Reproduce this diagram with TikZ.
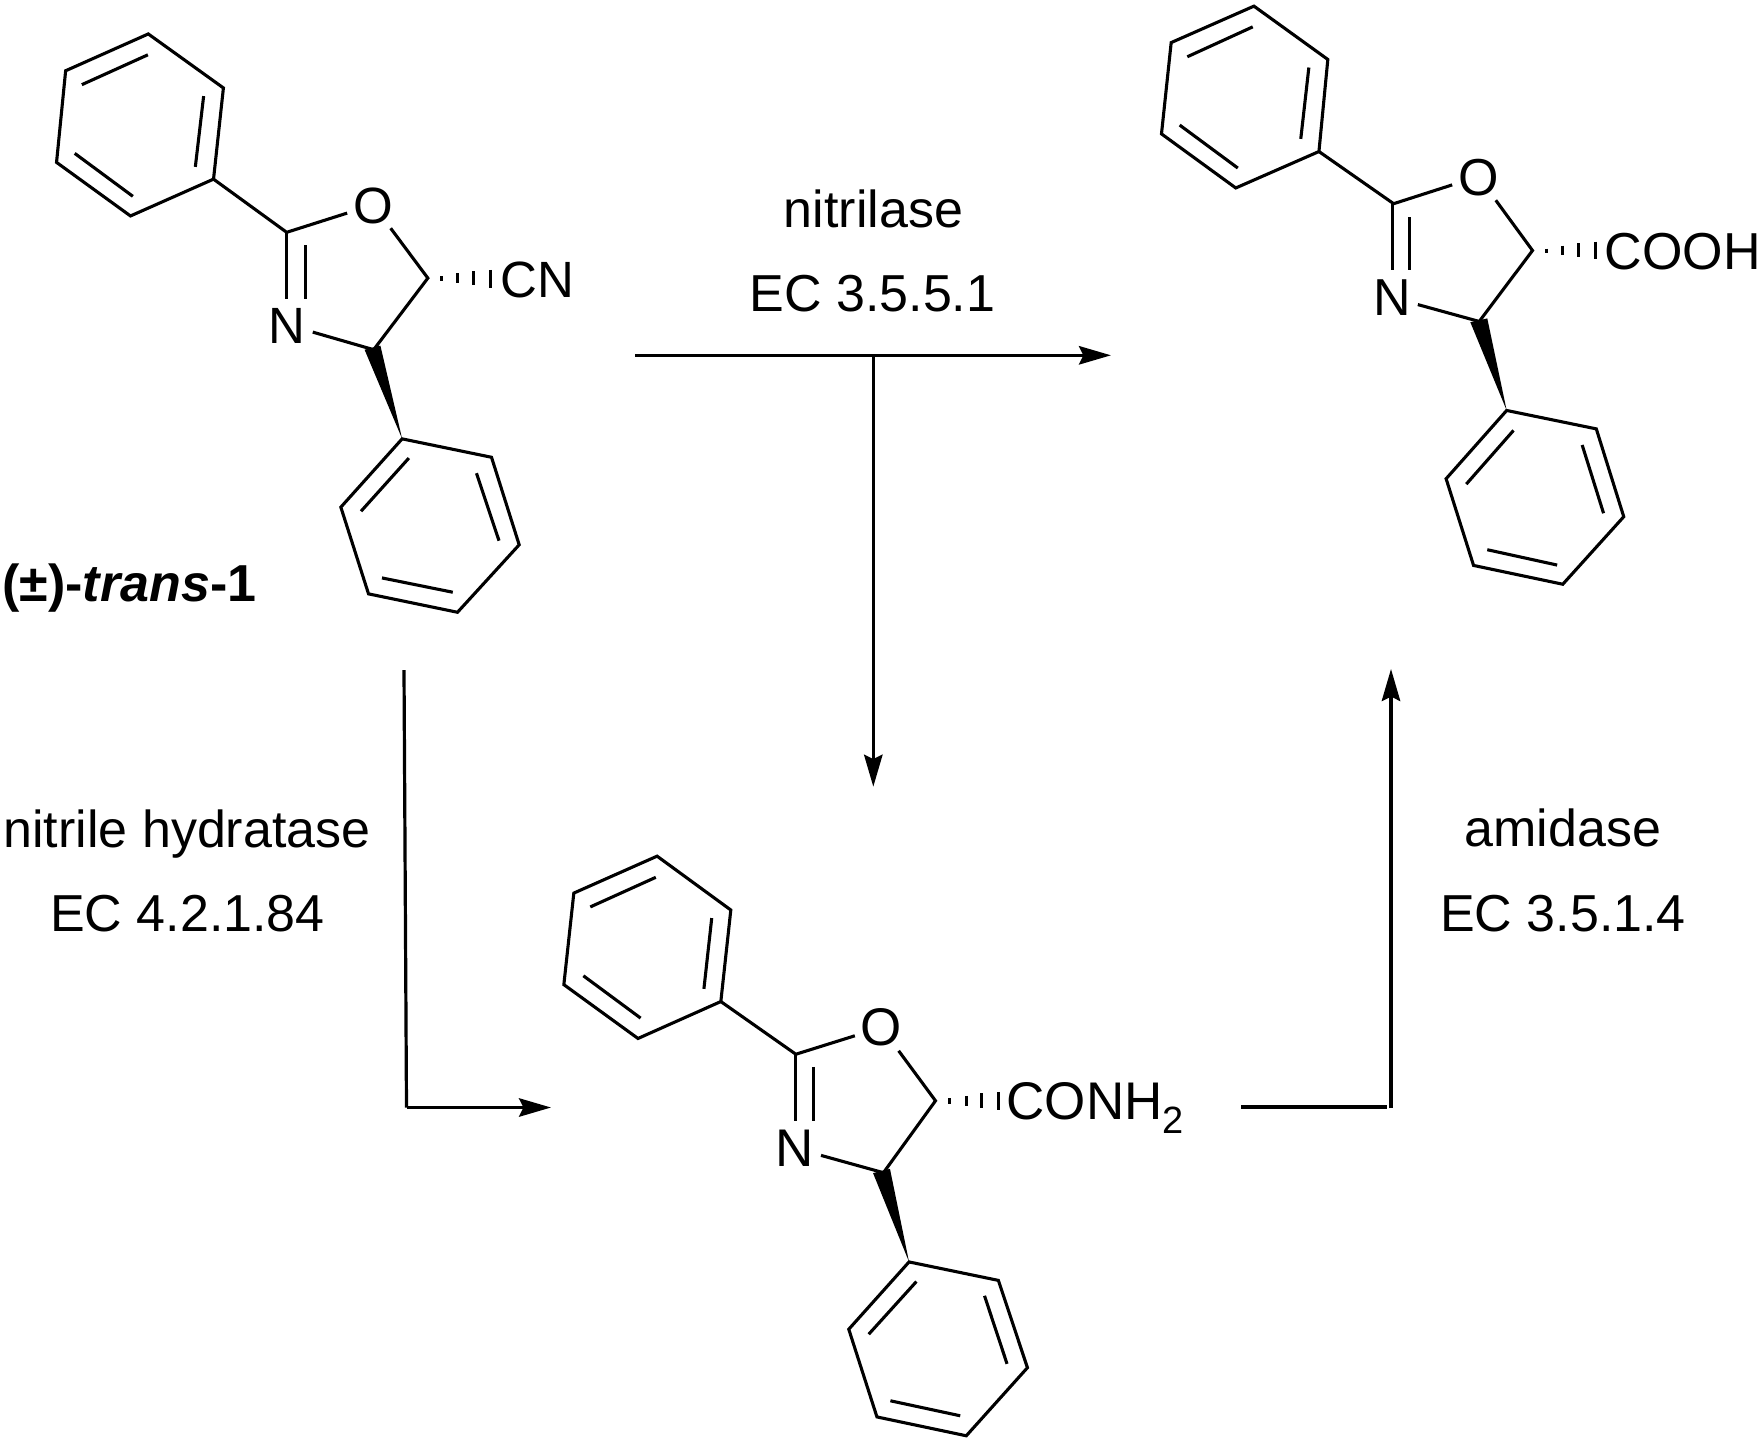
\documentclass[tikz,border=0pt]{standalone}
\usepackage{fontspec}
\setmainfont{Liberation Sans}
\usetikzlibrary{arrows.meta}
\tikzset{
  bond/.style={line width=1.55pt,line cap=butt,line join=miter},
  conn/.style={line width=1.6pt},
  head/.style={conn,-{Stealth[length=16pt,width=9.2pt,inset=2.2pt]}},
  lab/.style={inner sep=0pt,outer sep=0pt,anchor=base,font=\fontsize{26}{30}\selectfont},
  atomA/.style={inner sep=0pt,outer sep=0pt,font=\fontsize{25.5}{30}\selectfont},
  atomB/.style={inner sep=0pt,outer sep=0pt,font=\fontsize{26}{30}\selectfont},
  atomC/.style={inner sep=0pt,outer sep=0pt,font=\fontsize{26.5}{30}\selectfont},
}
\begin{document}
\begin{tikzpicture}[x=0.5pt,y=-0.5pt]
\useasboundingbox (0,0) rectangle (1763,1441);
\fill[white] (0,0) rectangle (1763,1441);

% molecule 1
\begin{scope}[x=0.19771pt,y=-0.2045pt]
\draw[bond] (375,83)--(565,215)--(540,438)--(330,528)--(143,397)--(166,173)--cycle;
\draw[bond] (207,207)--(374,134) (515,235)--(494,408) (189,375)--(336,480);
\draw[bond] (540,438)--(725,568)--(878,521) (988,558)--(1082,680)--(945,855)--(791,812);
\draw[bond] (725,568)--(725,730) (772,600)--(772,730);
\draw[bond] (1116,675)--(1116,687) (1157,668)--(1157,693) (1198,663)--(1198,698) (1240,660)--(1240,703);
\fill (922,855)--(962,845)--(1017,1073)--cycle;
\draw[bond] (1017,1073)--(1243,1118)--(1313,1332)--(1157,1497)--(932,1452)--(862,1240)--cycle;
\draw[bond] (1034,1120)--(913,1250) (1205,1157)--(1262,1322) (1145,1448)--(966,1413);
\node[atomA] (o1) at (945,503) {O};
\node[atomA] (n1) at (725,797) {N};
\node[atomA,anchor=base west] (cn) at (1266,728) {CN};
\node[inner sep=0pt,anchor=base west,font=\fontsize{26}{30}\selectfont\bfseries] (tr) at (5,1470) {(±)-\textit{trans}-1};
\end{scope}

% molecule 2
\begin{scope}[shift={(1130,0)},x=0.20186pt,y=-0.1918pt]
\draw[bond] (307,16)--(490,155)--(468,395)--(262,490)--(78,349)--(102,111)--cycle;
\draw[bond] (142,148)--(304,70) (443,176)--(423,362) (123,326)--(267,438);
\draw[bond] (468,395)--(653,531)--(798,482) (906,522)--(997,653)--(865,838)--(713,794);
\draw[bond] (651,531)--(651,705) (693,566)--(693,705);
\draw[bond] (1032,648)--(1032,660) (1072,640)--(1072,665) (1112,634)--(1112,671) (1153,630)--(1153,676);
\fill (843,840)--(885,830)--(933,1070)--cycle;
\draw[bond] (933,1070)--(1155,1118)--(1223,1347)--(1072,1523)--(851,1474)--(783,1248)--cycle;
\draw[bond] (950,1122)--(833,1262) (1120,1160)--(1173,1338) (1058,1473)--(885,1433);
\node[atomB] (o2) at (863,463) {O};
\node[atomB] (n2) at (650,776) {N};
\node[atomB,anchor=base west] (cooh) at (1176,703) {COOH};
\end{scope}

% molecule 3
\begin{scope}[shift={(540,840)},x=0.21683pt,y=-0.1923pt]
\draw[bond] (270,42)--(440,182)--(417,420)--(226,516)--(55,376)--(78,138)--cycle;
\draw[bond] (116,174)--(267,97) (396,203)--(378,387) (100,353)--(232,463);
\draw[bond] (417,420)--(590,557)--(726,509) (827,548)--(912,678)--(792,865)--(648,820);
\draw[bond] (590,557)--(590,730) (630,590)--(630,730);
\draw[bond] (945,672)--(945,686) (983,665)--(983,692) (1019,659)--(1019,696) (1058,655)--(1058,702);
\fill (768,866)--(807,855)--(851,1097)--cycle;
\draw[bond] (851,1097)--(1057,1145)--(1124,1372)--(983,1549)--(777,1500)--(712,1272)--cycle;
\draw[bond] (868,1148)--(758,1285) (1025,1185)--(1077,1362) (969,1497)--(808,1458);
\node[atomC] (o3) at (787,488) {O};
\node[atomC] (n3) at (587,801) {N};
\node[atomC,anchor=base west] (conh) at (1076,727) {CONH\raisebox{-7pt}{\fontsize{19}{24}\selectfont 2}};
\end{scope}

% labels
\node[lab] (l1) at (873.4,227.3) {nitrilase};
\node[lab] (l2) at (872.5,311.7) {EC 3.5.5.1};
\node[lab] (l3) at (187,847.3) {nitrile hydratase};
\node[lab] (l4) at (187.5,931.7) {EC 4.2.1.84};
\node[lab] (l5) at (1563,846.7) {amidase};
\node[lab] (l6) at (1563,931.7) {EC 3.5.1.4};

% connectors
\coordinate (a1s) at (635,355.3);
\coordinate (a1e) at (1111,355.3);
\coordinate (a2s) at (873.3,355.3);
\coordinate (a2e) at (873.3,786.7);
\coordinate (a3s) at (404,670);
\coordinate (a3c) at (406.5,1107.5);
\coordinate (a3e) at (551,1107.5);
\coordinate (a4s) at (1241,1107);
\coordinate (a4c) at (1387,1107);
\coordinate (a5s) at (1391,1108);
\coordinate (a5e) at (1391,669);
\draw[head] (a1s)--(a1e);
\draw[head] (a2s)--(a2e);
\draw[conn] (a3s)--(a3c);
\draw[head] (a3c)--(a3e);
\draw[conn] (a4s)--(a4c);
\draw[head] (a5s)--(a5e);
\end{tikzpicture}
\end{document}
